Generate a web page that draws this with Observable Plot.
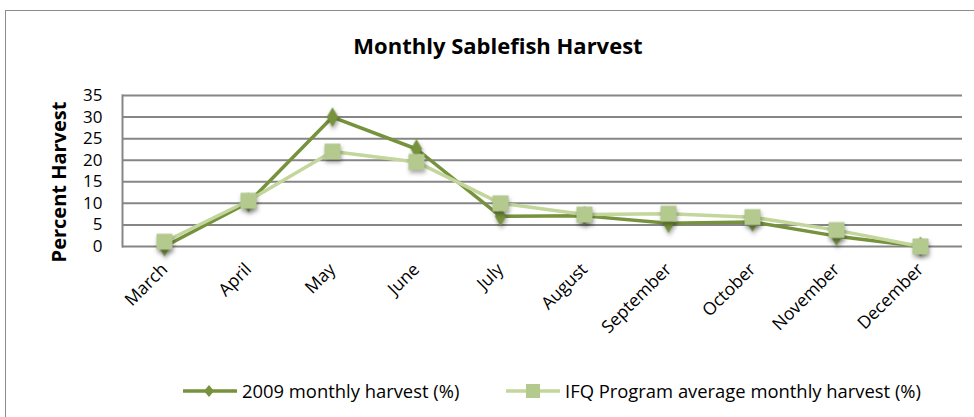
<!DOCTYPE html>
<html>
<head>
<meta charset="utf-8">
<script src="https://cdn.jsdelivr.net/npm/d3@7"></script>
<script src="https://cdn.jsdelivr.net/npm/@observablehq/plot@0.6"></script>
<style>
  html, body { margin: 0; padding: 0; background: #fff; }
  #wrap { position: relative; width: 974px; height: 417px; overflow: hidden; font-family: "Open Sans", Lato, sans-serif; }
  #border { position: absolute; left: 5px; top: 10px; width: 1000px; height: 500px; border: 1.5px solid #8c8c8c; box-sizing: border-box; }
  #title { position: absolute; left: 0; width: 996px; top: 30px; text-align: center; font-weight: bold; font-size: 22px; color: #000; }
  #ylabel { position: absolute; left: 58px; top: 182px; transform: translate(-50%, -50%) rotate(-90deg); font-weight: bold; font-size: 20px; white-space: nowrap; color: #000; }
  #chart { position: absolute; left: 0; top: 80px; }
  #legend { position: absolute; top: 378px; left: 0; width: 974px; font-size: 18.4px; color: #000; }
  .item { position: absolute; display: flex; align-items: center; white-space: nowrap; }
  .item svg { margin-right: 5px; }
</style>
</head>
<body>
<div id="wrap">
  <div id="border"></div>
  <div id="title">Monthly Sablefish Harvest</div>
  <div id="ylabel">Percent Harvest</div>
  <div id="chart"></div>
  <div id="legend"></div>
</div>
<script>
const months = ["March","April","May","June","July","August","September","October","November","December"];
const harvest2009 = [0, 10.2, 30, 22.6, 7, 7.1, 5.4, 5.7, 2.4, 0];
const ifqAverage = [1.1, 10.6, 22, 19.6, 10, 7.4, 7.6, 6.8, 3.8, 0];
const yTicks = [0, 5, 10, 15, 20, 25, 30, 35];
const seriesNames = ["2009 monthly harvest (%)", "IFQ Program average monthly harvest (%)"];

const dark = "#76923C";
const light = "#C3D69B";
const lightMarker = "#B3C98D";

const d2009 = months.map((m, i) => ({month: m, value: harvest2009[i]}));
const dIfq = months.map((m, i) => ({month: m, value: ifqAverage[i]}));

const plot = Plot.plot({
  width: 974,
  height: 280,
  marginTop: 15,
  marginBottom: 114,
  marginLeft: 122,
  marginRight: 12,
  style: {fontFamily: "'Open Sans', Lato, sans-serif", background: "transparent", overflow: "visible"},
  x: {type: "point", domain: months, padding: 0.5, label: null},
  y: {domain: [0, 35], label: null},
  marks: [
    Plot.ruleY(yTicks, {stroke: "#868686", strokeWidth: 2, strokeOpacity: 1}),
    Plot.frame({anchor: "left", stroke: "#868686", strokeWidth: 2}),
    Plot.axisY({ticks: yTicks, tickSize: 0, tickPadding: 20, fontSize: 17, label: null, fill: "#000"}),
    Plot.axisX({tickSize: 0, tickPadding: 20, tickRotate: -45, fontSize: 17.5, label: null, fill: "#000"}),
    Plot.line(d2009, {x: "month", y: "value", stroke: dark, strokeWidth: 3.5}),
    Plot.line(dIfq, {x: "month", y: "value", stroke: light, strokeWidth: 3.5}),
    Plot.dot(d2009, {x: "month", y: "value", symbol: "diamond", r: 6, fill: dark, stroke: "none", className: "shadowed"}),
    Plot.dot(dIfq, {x: "month", y: "value", symbol: "square", r: 9, fill: lightMarker, stroke: "none", className: "shadowed"})
  ]
});
d3.select(plot).selectAll(".shadowed").style("filter", "drop-shadow(1px 3px 2px rgba(0,0,0,0.35))");
document.getElementById("chart").appendChild(plot);

// Legend
const legend = d3.select("#legend");
const items = [
  {name: seriesNames[0], color: dark, marker: "diamond", left: 183},
  {name: seriesNames[1], color: light, marker: "square", left: 506}
];
for (const it of items) {
  const div = legend.append("div").attr("class", "item").style("left", it.left + "px");
  const s = div.append("svg").attr("width", 54).attr("height", 20);
  s.append("line").attr("x1", 0).attr("x2", 54).attr("y1", 10).attr("y2", 10).attr("stroke", it.color).attr("stroke-width", 3.5);
  if (it.marker === "diamond") {
    s.append("path").attr("d", "M26,4L31,10L26,16L21,10Z").attr("fill", it.color);
  } else {
    s.append("rect").attr("x", 20).attr("y", 3).attr("width", 14).attr("height", 14).attr("fill", lightMarker);
  }
  div.append("span").text(it.name);
}
</script>
</body>
</html>
